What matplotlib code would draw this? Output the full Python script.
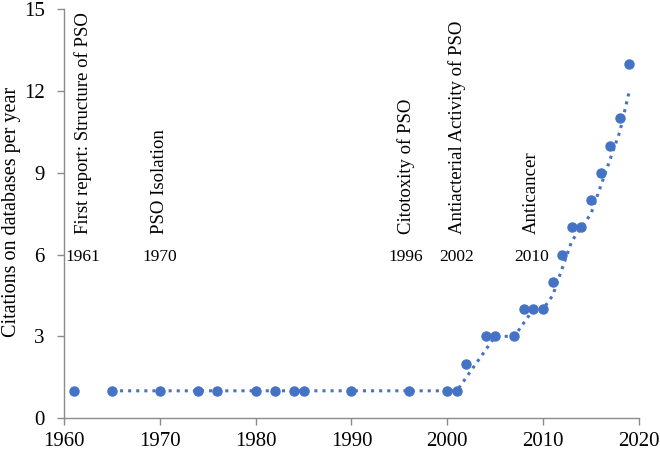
import matplotlib.pyplot as plt
import numpy as np

plt.rcParams['font.family'] = ['Liberation Serif', 'DejaVu Serif']

# Citas por año
years = [1961, 1965, 1970, 1974, 1976, 1980, 1982, 1984, 1985, 1990, 1996,
         2000, 2001, 2002, 2004, 2005, 2007, 2008, 2009, 2010, 2011, 2012,
         2013, 2014, 2015, 2016, 2017, 2018, 2019]
citations = [1, 1, 1, 1, 1, 1, 1, 1, 1, 1, 1,
             1, 1, 2, 3, 3, 3, 4, 4, 4, 5, 6,
             7, 7, 8, 9, 10, 11, 13]

# Hitos
event_years = ['1961', '1970', '1996', '2002', '2010']
event_labels = ['First report: Structure of PSO', 'PSO Isolation',
                'Citotoxity of PSO', 'Antiacterial Activity of PSO', 'Anticancer']

x_ticks = [1960, 1970, 1980, 1990, 2000, 2010, 2020]
y_ticks = [0, 3, 6, 9, 12, 15]

blue = '#4472C4'
gray = '#8c8c8c'


def draw(path):
    fig = plt.figure(figsize=(6.6, 4.5), dpi=100)
    ax = fig.add_axes([0.097, 0.071, 0.871, 0.908])

    x = np.array(years)
    y = np.array(citations, dtype=float)

    # Línea de tendencia: media móvil de 2 periodos
    ma = (y[1:] + y[:-1]) / 2
    ax.plot(x[1:], ma, linestyle=':', color=blue, linewidth=2.2, zorder=2)
    ax.plot(x, y, 'o', color=blue, markersize=6.5, zorder=3)

    # Textos de los hitos (posición ajustada a mano)
    text_x = [1962, 1970, 1995.7, 2001, 2008.8]
    for tx, yr, lab in zip(text_x, event_years, event_labels):
        ax.text(tx, 5.9, yr, ha='center', va='center', fontsize=12.5)
        ax.text(tx, 6.75, lab, ha='center', va='bottom', rotation=90, fontsize=13.5)

    ax.set_xlim(1960, 2020)
    ax.set_ylim(0, 15)
    ax.set_xticks(x_ticks)
    ax.set_yticks(y_ticks)
    ax.tick_params(labelsize=15, color=gray, length=5, width=1)
    ax.tick_params(axis='y', pad=9)
    ax.tick_params(axis='x', pad=5)

    # Etiqueta del eje y
    fig.text(0.018, 0.529, 'Citations on databases per year', rotation=90,
             ha='center', va='center', fontsize=14.5)

    for side in ['top', 'right']:
        ax.spines[side].set_visible(False)
    for side in ['left', 'bottom']:
        ax.spines[side].set_color(gray)
        ax.spines[side].set_linewidth(1)

    fig.savefig(path)


if __name__ == "__main__":
    draw('out.png')
